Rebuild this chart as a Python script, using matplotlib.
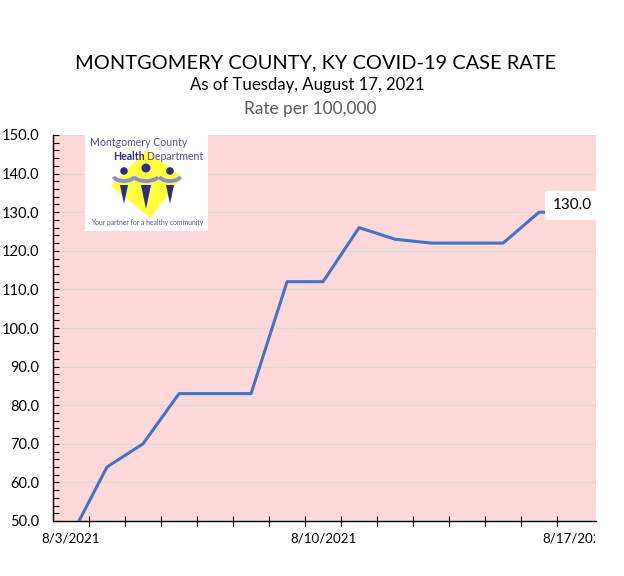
import matplotlib
matplotlib.use('Agg')
import matplotlib.pyplot as plt
from matplotlib.patches import Polygon, Circle, Arc
from matplotlib.transforms import Bbox

plt.rcParams['font.family'] = ['Lato', 'DejaVu Sans']

# data
dates = ['8/3/2021', '8/4/2021', '8/5/2021', '8/6/2021', '8/7/2021',
         '8/8/2021', '8/9/2021', '8/10/2021', '8/11/2021', '8/12/2021',
         '8/13/2021', '8/14/2021', '8/15/2021', '8/16/2021', '8/17/2021']
rates = [46, 64, 70, 83, 83, 83, 112, 112, 126, 123, 122, 122, 122, 130, 130]
label_idx = [0, 7, 14]

title = 'MONTGOMERY COUNTY, KY COVID-19 CASE RATE'
subtitle = 'As of Tuesday, August 17, 2021'
units = 'Rate per 100,000'

W, H = 624, 576
fig = plt.figure(figsize=(W/100, H/100), dpi=100)


def box(x0, y0, x1, y1):
    # pixel box (top-left origin) -> figure fraction rect
    return [x0/W, 1 - y1/H, (x1 - x0)/W, (y1 - y0)/H]


fig.text(316/W, 1 - 63/H, title, ha='center', va='center', fontsize=14.4)
fig.text(307/W, 1 - 85/H, subtitle, ha='center', va='center', fontsize=12.1)
fig.text(310/W, 1 - 109/H, units, ha='center', va='center', fontsize=12.4,
         color='#595959')

ax = fig.add_axes(box(53, 135, 596, 521))
ax.set_facecolor('#FFD9D9')
x = list(range(len(dates)))
ax.plot(x, rates, color='#4472C4', lw=2.2, zorder=3)
ax.set_xlim(-0.5, len(dates) - 0.42)
ax.set_ylim(50, 150)

ax.set_yticks(range(50, 151, 10))
ax.set_yticks(range(50, 151, 2), minor=True)
ax.yaxis.set_major_formatter(lambda v, p: f'{v:.1f}')
ax.grid(axis='y', color='#D9D9D9', lw=1)
ax.set_axisbelow(True)

ax.set_xticks(label_idx)
ax.set_xticklabels([dates[i] for i in label_idx])
ax.set_xticks([i + 0.5 for i in range(len(dates) - 1)], minor=True)

for s in ['top', 'right']:
    ax.spines[s].set_visible(False)
for s in ['left', 'bottom']:
    ax.spines[s].set_color('black')
    ax.spines[s].set_linewidth(1)

ax.tick_params(axis='y', which='both', direction='in', length=4, width=0.8,
               labelsize=10.5, pad=10)
ax.tick_params(axis='x', which='major', length=0, labelsize=9.6, pad=8)
ax.tick_params(axis='x', which='minor', direction='inout', length=7, width=0.8)

# last label gets cut at the plot edge like in the original
clip = Bbox.from_extents(0, 0, 595, H)
for lbl in ax.get_xticklabels():
    lbl.set_clip_box(clip)
    lbl.set_clip_on(True)

ax.annotate(f'{rates[-1]:.1f}', (x[-1], rates[-1]), xytext=(-3, 7),
            textcoords='offset pixels', ha='center', va='center',
            fontsize=11, zorder=5, annotation_clip=False,
            bbox=dict(boxstyle='square,pad=0.5', fc='white', ec='none'))

# health department logo
lg = fig.add_axes(box(85, 134, 208, 231))
lg.set_xlim(85, 208)
lg.set_ylim(231, 134)
lg.axis('off')
lg.add_patch(plt.Rectangle((85, 134), 123, 97, fc='white', ec='none'))
lg.add_patch(Polygon([(146, 150), (182, 177), (150, 218), (111, 186)],
                     closed=True, fc='#FFFF40', ec='none'))
navy = '#2B2E83'
lav = '#8C8ED0'
for cx, w in [(124, 22), (146, 26), (170, 22)]:
    lg.add_patch(Arc((cx, 175), w, 12, theta1=10, theta2=170, color=lav, lw=2.8))
for cx, cy, r in [(124, 171, 3.8), (146, 168, 4.5), (170, 171, 3.8)]:
    lg.add_patch(Circle((cx, cy), r, fc=navy, ec='none'))
for cx, half, bot in [(124, 4, 204), (146, 5, 209), (170, 4, 204)]:
    lg.add_patch(Polygon([(cx - half, 185), (cx + half, 185), (cx, bot)],
                         closed=True, fc=navy, ec='none'))
lg.text(90, 143, 'Montgomery County', fontsize=7.6, color='#4F4FA3',
        va='center', ha='left')
lg.text(113, 156, 'Health', fontsize=7.6, color=navy, fontweight='bold',
        va='center', ha='left')
lg.text(147, 156, 'Department', fontsize=7.6, color='#4F4FA3',
        va='center', ha='left')
lg.text(147, 223, 'Your partner for a healthy community', fontsize=4.9,
        color='#4F4FA3', va='center', ha='center')

fig.savefig('out.png', dpi=100)
